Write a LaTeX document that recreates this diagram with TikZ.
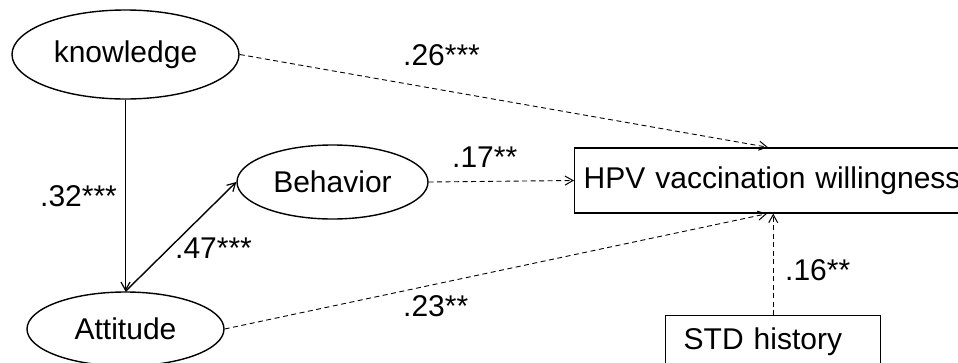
\documentclass[tikz,border=0pt]{standalone}
\usepackage{fontspec}
\setmainfont{Liberation Sans}
\usetikzlibrary{arrows.meta,shapes.geometric,calc}

\begin{document}
\begin{tikzpicture}[x=1pt,y=-1pt,
  font=\fontsize{30}{36}\selectfont,
  latent/.style={ellipse,draw,line width=1.4pt,inner sep=0pt},
  observed/.style={rectangle,draw,line width=1.4pt,align=left,inner ysep=0pt},
  solidpath/.style={line width=1.4pt,-{Straight Barb[length=8pt,width=9pt,line width=1.2pt]}},
  dashpath/.style={line width=0.9pt,dash pattern=on 5pt off 3.5pt,-{Straight Barb[length=8pt,width=9pt,line width=1pt]}},
  coef/.style={anchor=west,inner sep=0pt}]

\useasboundingbox (0,0) rectangle (958,362);
\clip (0,0) rectangle (958,362);

% latent constructs
\node[latent,minimum width=227pt,minimum height=89pt] (know) at (125.5,54.5) {knowledge};
\node[latent,minimum width=191pt,minimum height=74pt] (beh) at (332.5,182) {Behavior};
\node[latent,minimum width=197pt,minimum height=74pt] (att) at (125.5,329) {Attitude};

% observed variables
\node[observed,anchor=west,minimum height=65pt,text width=395pt,inner xsep=9pt] (hpv) at (574,180.5) {HPV vaccination willingness};
\node[observed,anchor=north west,minimum height=52pt,text width=179pt,inner xsep=18pt] (std) at (665,315) {STD history};

% paths
\draw[solidpath] (know.south) -- (att.north);
\draw[solidpath] (att.north) -- (beh.west);
\draw[dashpath] (know.east) -- ([xshift=194pt]hpv.north west);
\draw[dashpath] (beh.east) -- (hpv.west);
\draw[dashpath] (att.east) -- ([xshift=193pt]hpv.south west);
\draw[dashpath] (std.north) -- (std.north |- hpv.south);

% path coefficients
\node[coef] (c26) at (403,55) {.26***};
\node[coef] (c17) at (452,157.5) {.17**};
\node[coef] (c32) at (40,196) {.32***};
\node[coef] (c47) at (175,248) {.47***};
\node[coef] (c23) at (403,306) {.23**};
\node[coef] (c16) at (785,270) {.16**};
\end{tikzpicture}
\end{document}
